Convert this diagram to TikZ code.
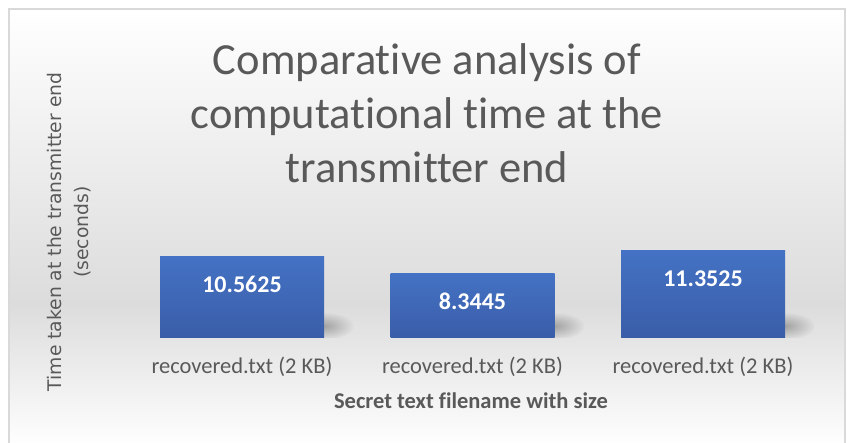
\documentclass[tikz,border=0pt]{standalone}
\usepackage{fontspec}
\setmainfont{Carlito}[Ligatures=NoCommon]
\newfontfamily\yaxisfont{DejaVu Sans}
\usepackage{xcolor}
\usepackage{tikz}
\usetikzlibrary{positioning,fadings,backgrounds}
\definecolor{txframe}{HTML}{D9D9D9}
\definecolor{txink}{HTML}{595959}
\definecolor{txbluetop}{HTML}{4472C4}
\definecolor{txbluebot}{HTML}{3A5DA8}
\definecolor{txbgmid}{HTML}{DCDCDC}

\tikzfading[name=softspot,inner color=transparent!72,outer color=transparent!100]

\tikzset{
  timebar/.style={minimum width=164pt,inner sep=0pt,anchor=south,
    top color=txbluetop,bottom color=txbluebot},
  barval/.style={font=\fontsize{24}{28}\selectfont\bfseries,text=white,inner sep=0pt},
  catlab/.style={font=\fontsize{22.5}{26}\selectfont,text=txink,inner sep=0pt},
  barshade/.style={fill=black,path fading=softspot}
}

\begin{document}
\begin{tikzpicture}[x=1pt,y=1pt]
\useasboundingbox (0,0) rectangle (847,443);

\node[font=\fontsize{44.5}{54}\selectfont,text=txink,align=center,inner sep=0pt] (title) at (427,330)
  {Comparative analysis of\\computational time at the\\transmitter end};

\node[font=\yaxisfont\fontsize{18.75}{26.5}\selectfont,text=txink,align=center,rotate=90,inner sep=0pt]
  (ytitle) at (69,211) {Time taken at the transmitter end\\(seconds)};

% bars
\node[timebar,minimum height=81pt] (bar1) at (242,105) {};
\node[timebar,minimum height=64pt] (bar2) at (472.5,105) {};
\node[timebar,minimum height=87pt] (bar3) at (703,105) {};

\node[barval] (val1) at ([yshift=-28pt]bar1.north) {10.5625};
\node[barval] (val2) at ([yshift=-28pt]bar2.north) {8.3445};
\node[barval] (val3) at ([yshift=-28pt]bar3.north) {11.3525};

\node[catlab] (cat1) at ([yshift=-29pt]bar1.south) {recovered.txt (2 KB)};
\node[catlab] (cat2) at ([yshift=-29pt]bar2.south) {recovered.txt (2 KB)};
\node[catlab] (cat3) at ([yshift=-29pt]bar3.south) {recovered.txt (2 KB)};

\node[font=\fontsize{22.5}{26}\selectfont\bfseries,text=txink,inner sep=0pt] (xtitle) at (471,42)
  {Secret text filename with size};

\begin{scope}[on background layer]
  \shade[top color=white,bottom color=txbgmid] (9,434) rectangle (845,140);
  \shade[top color=txbgmid,bottom color=white] (9,140) rectangle (845,-5);
  \draw[txframe,line width=1.5pt] (9,-5) -- (9,434) -- (845,434) -- (845,-5);
  \begin{scope}
    \clip (9,105) rectangle (845,434);
    \fill[barshade] ([yshift=12pt]bar1.south east) ellipse [x radius=30,y radius=14];
    \fill[barshade] ([yshift=12pt]bar2.south east) ellipse [x radius=30,y radius=14];
    \fill[barshade] ([yshift=12pt]bar3.south east) ellipse [x radius=30,y radius=14];
  \end{scope}
\end{scope}
\end{tikzpicture}
\end{document}
